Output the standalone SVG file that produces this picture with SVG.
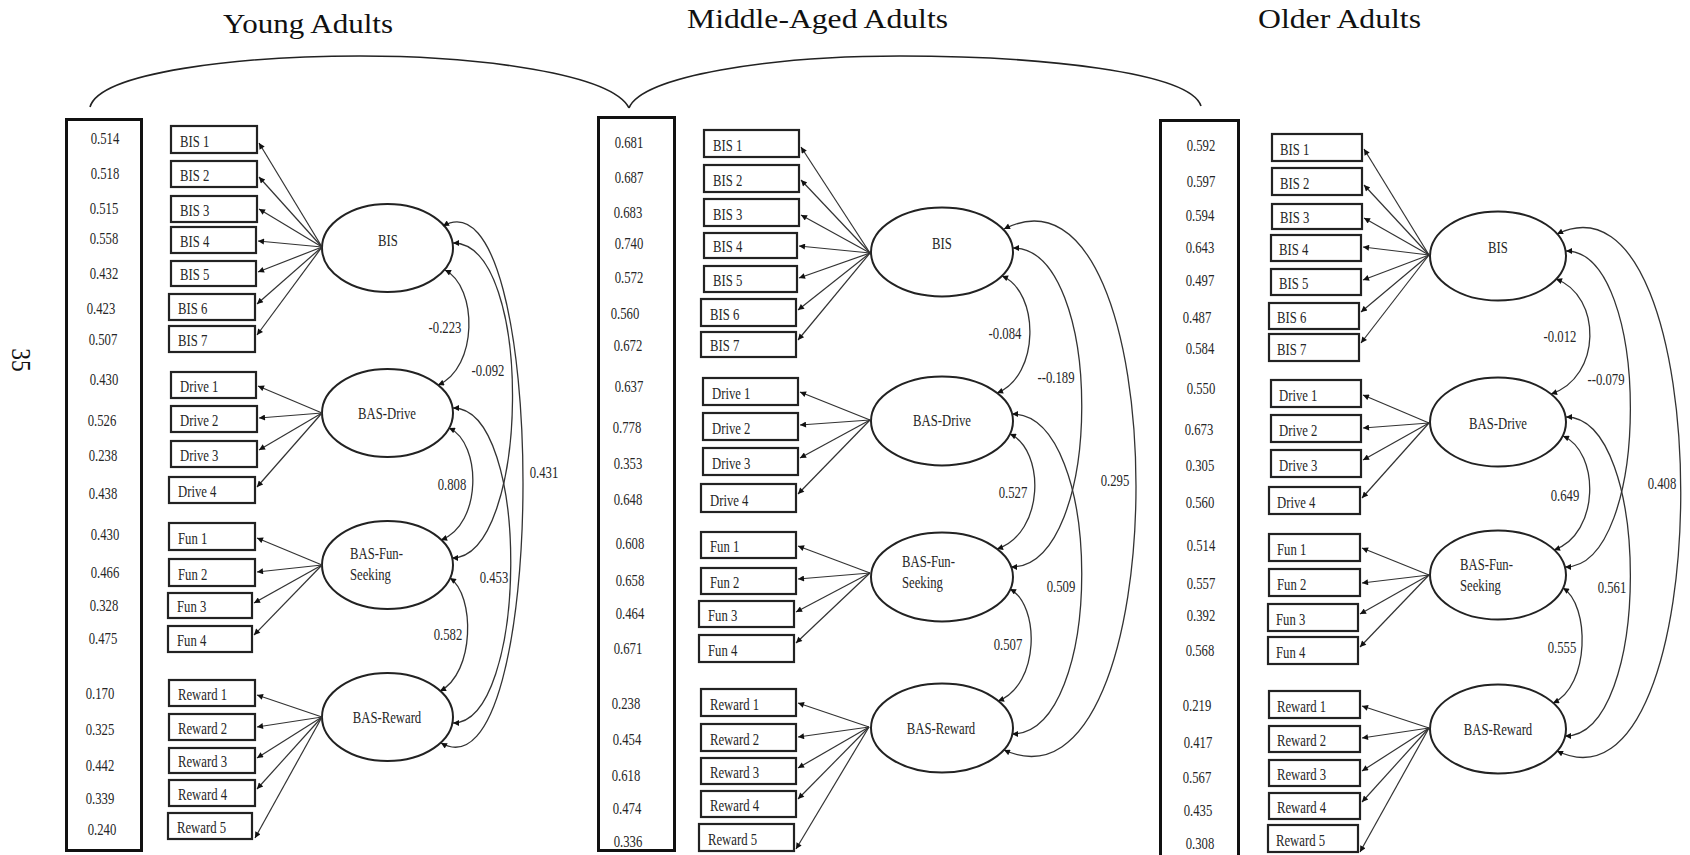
<svg xmlns="http://www.w3.org/2000/svg" width="1690" height="855" viewBox="0 0 1690 855">
<defs>
<marker id="ah" viewBox="0 0 10 10" refX="10" refY="5" markerWidth="8" markerHeight="6" markerUnits="userSpaceOnUse" orient="auto-start-reverse"><path d="M0,0 L10,5 L0,10 z" fill="#111"/></marker>
<style>
.t{font-family:"Liberation Serif","Times New Roman",serif;font-size:16.5px;fill:#262626}
.c{text-anchor:middle}
.ttl{font-family:"Liberation Serif","Times New Roman",serif;font-size:28px;fill:#111}
.box{fill:#fff;stroke:#222;stroke-width:2.2}
.err{fill:none;stroke:#111;stroke-width:3}
.lat{fill:#fff;stroke:#222;stroke-width:2}
.ld{fill:none;stroke:#333;stroke-width:1.2;marker-end:url(#ah)}
.cv{fill:none;stroke:#333;stroke-width:1.3;marker-start:url(#ah);marker-end:url(#ah)}
.br{fill:none;stroke:#222;stroke-width:1.6}
</style>
</defs>
<rect width="1690" height="855" fill="#fff"/>

<g id="titles">
<text class="ttl" x="223" y="33" textLength="170" lengthAdjust="spacingAndGlyphs">Young Adults</text>
<text class="ttl" x="687" y="28" textLength="261" lengthAdjust="spacingAndGlyphs">Middle-Aged Adults</text>
<text class="ttl" x="1258" y="28" textLength="163" lengthAdjust="spacingAndGlyphs">Older Adults</text>
<text class="ttl c" font-size="31" transform="translate(12,360) rotate(90) scale(0.84,1)">35</text>
</g>

<g id="braces">
<path class="br" d="M90,107 C100,72 240,56 360,56 C480,56 612,74 629,108"/>
<path class="br" d="M629,108 C642,76 770,56 900,56 C1040,56 1190,72 1201,106"/>
</g>

<!-- ================= PANEL 1 ================= -->
<g id="p1-errors">
<rect class="err" x="66.5" y="119.5" width="75" height="731"/>
<g class="t c">
<text transform="matrix(.77 0 0 1 105 143.5)">0.514</text>
<text transform="matrix(.77 0 0 1 105 178.5)">0.518</text>
<text transform="matrix(.77 0 0 1 104 213.5)">0.515</text>
<text transform="matrix(.77 0 0 1 104 243.5)">0.558</text>
<text transform="matrix(.77 0 0 1 104 278.5)">0.432</text>
<text transform="matrix(.77 0 0 1 101 313.5)">0.423</text>
<text transform="matrix(.77 0 0 1 103 344.5)">0.507</text>
<text transform="matrix(.77 0 0 1 104 384.5)">0.430</text>
<text transform="matrix(.77 0 0 1 102 425.5)">0.526</text>
<text transform="matrix(.77 0 0 1 103 460.5)">0.238</text>
<text transform="matrix(.77 0 0 1 103 498.5)">0.438</text>
<text transform="matrix(.77 0 0 1 105 539.5)">0.430</text>
<text transform="matrix(.77 0 0 1 105 577.5)">0.466</text>
<text transform="matrix(.77 0 0 1 104 610.5)">0.328</text>
<text transform="matrix(.77 0 0 1 103 643.5)">0.475</text>
<text transform="matrix(.77 0 0 1 100 698.5)">0.170</text>
<text transform="matrix(.77 0 0 1 100 734.5)">0.325</text>
<text transform="matrix(.77 0 0 1 100 770.5)">0.442</text>
<text transform="matrix(.77 0 0 1 100 803.5)">0.339</text>
<text transform="matrix(.77 0 0 1 102 834.5)">0.240</text>
</g>
</g>
<g id="p1-bis1"><rect class="box" x="171" y="126" width="86" height="27"/><text class="t" transform="matrix(.77 0 0 1 180 147)">BIS 1</text></g>
<g id="p1-bis2"><rect class="box" x="171" y="161" width="86" height="26"/><text class="t" transform="matrix(.77 0 0 1 180 181)">BIS 2</text></g>
<g id="p1-bis3"><rect class="box" x="171" y="196" width="86" height="26"/><text class="t" transform="matrix(.77 0 0 1 180 216)">BIS 3</text></g>
<g id="p1-bis4"><rect class="box" x="171" y="227" width="85" height="26"/><text class="t" transform="matrix(.77 0 0 1 180 247)">BIS 4</text></g>
<g id="p1-bis5"><rect class="box" x="171" y="261" width="85" height="25"/><text class="t" transform="matrix(.77 0 0 1 180 280)">BIS 5</text></g>
<g id="p1-bis6"><rect class="box" x="169" y="294" width="86" height="26"/><text class="t" transform="matrix(.77 0 0 1 178 314)">BIS 6</text></g>
<g id="p1-bis7"><rect class="box" x="169" y="326" width="86" height="26"/><text class="t" transform="matrix(.77 0 0 1 178 346)">BIS 7</text></g>
<g id="p1-drive1"><rect class="box" x="171" y="372" width="85" height="26"/><text class="t" transform="matrix(.77 0 0 1 180 392)">Drive 1</text></g>
<g id="p1-drive2"><rect class="box" x="171" y="406" width="86" height="26"/><text class="t" transform="matrix(.77 0 0 1 180 426)">Drive 2</text></g>
<g id="p1-drive3"><rect class="box" x="171" y="441" width="86" height="26"/><text class="t" transform="matrix(.77 0 0 1 180 461)">Drive 3</text></g>
<g id="p1-drive4"><rect class="box" x="169" y="477" width="86" height="26"/><text class="t" transform="matrix(.77 0 0 1 178 497)">Drive 4</text></g>
<g id="p1-fun1"><rect class="box" x="169" y="523" width="86" height="27"/><text class="t" transform="matrix(.77 0 0 1 178 544)">Fun 1</text></g>
<g id="p1-fun2"><rect class="box" x="169" y="559" width="86" height="27"/><text class="t" transform="matrix(.77 0 0 1 178 580)">Fun 2</text></g>
<g id="p1-fun3"><rect class="box" x="168" y="593" width="84" height="25"/><text class="t" transform="matrix(.77 0 0 1 177 612)">Fun 3</text></g>
<g id="p1-fun4"><rect class="box" x="168" y="626" width="84" height="26"/><text class="t" transform="matrix(.77 0 0 1 177 646)">Fun 4</text></g>
<g id="p1-rew1"><rect class="box" x="169" y="680" width="86" height="26"/><text class="t" transform="matrix(.77 0 0 1 178 700)">Reward 1</text></g>
<g id="p1-rew2"><rect class="box" x="169" y="714" width="86" height="26"/><text class="t" transform="matrix(.77 0 0 1 178 734)">Reward 2</text></g>
<g id="p1-rew3"><rect class="box" x="169" y="748" width="86" height="25"/><text class="t" transform="matrix(.77 0 0 1 178 767)">Reward 3</text></g>
<g id="p1-rew4"><rect class="box" x="169" y="780" width="86" height="26"/><text class="t" transform="matrix(.77 0 0 1 178 800)">Reward 4</text></g>
<g id="p1-rew5"><rect class="box" x="168" y="813" width="84" height="26"/><text class="t" transform="matrix(.77 0 0 1 177 833)">Reward 5</text></g>
<g id="p1-BIS"><ellipse class="lat" cx="387.5" cy="248" rx="65.5" ry="44"/><text class="t c" transform="matrix(.77 0 0 1 388 245.5)">BIS</text></g>
<g id="p1-DRIVE"><ellipse class="lat" cx="387.5" cy="413" rx="65.5" ry="44"/><text class="t c" transform="matrix(.77 0 0 1 387 418.5)">BAS-Drive</text></g>
<g id="p1-FUN"><ellipse class="lat" cx="387.5" cy="565" rx="65.5" ry="44"/><text class="t" transform="matrix(.77 0 0 1 350 558.5)">BAS-Fun-</text><text class="t" transform="matrix(.77 0 0 1 350 580)">Seeking</text></g>
<g id="p1-REW"><ellipse class="lat" cx="387.5" cy="717" rx="65.5" ry="44"/><text class="t c" transform="matrix(.77 0 0 1 387 722.5)">BAS-Reward</text></g>

<!-- ================= PANEL 2 ================= -->
<g id="p2-errors">
<rect class="err" x="598.5" y="117.5" width="76" height="733"/>
<g class="t c">
<text transform="matrix(.77 0 0 1 629 147.5)">0.681</text>
<text transform="matrix(.77 0 0 1 629 182.5)">0.687</text>
<text transform="matrix(.77 0 0 1 628 217.5)">0.683</text>
<text transform="matrix(.77 0 0 1 629 248.5)">0.740</text>
<text transform="matrix(.77 0 0 1 629 282.5)">0.572</text>
<text transform="matrix(.77 0 0 1 625 318.5)">0.560</text>
<text transform="matrix(.77 0 0 1 628 350.5)">0.672</text>
<text transform="matrix(.77 0 0 1 629 391.5)">0.637</text>
<text transform="matrix(.77 0 0 1 627 432.5)">0.778</text>
<text transform="matrix(.77 0 0 1 628 468.5)">0.353</text>
<text transform="matrix(.77 0 0 1 628 504.5)">0.648</text>
<text transform="matrix(.77 0 0 1 630 548.5)">0.608</text>
<text transform="matrix(.77 0 0 1 630 585.5)">0.658</text>
<text transform="matrix(.77 0 0 1 630 618.5)">0.464</text>
<text transform="matrix(.77 0 0 1 628 653.5)">0.671</text>
<text transform="matrix(.77 0 0 1 626 708.5)">0.238</text>
<text transform="matrix(.77 0 0 1 627 744.5)">0.454</text>
<text transform="matrix(.77 0 0 1 626 780.5)">0.618</text>
<text transform="matrix(.77 0 0 1 627 813.5)">0.474</text>
<text transform="matrix(.77 0 0 1 628 846.5)">0.336</text>
</g>
</g>
<g id="p2-bis1"><rect class="box" x="704" y="130" width="95" height="27"/><text class="t" transform="matrix(.77 0 0 1 713 151)">BIS 1</text></g>
<g id="p2-bis2"><rect class="box" x="704" y="165" width="95" height="27"/><text class="t" transform="matrix(.77 0 0 1 713 186)">BIS 2</text></g>
<g id="p2-bis3"><rect class="box" x="704" y="199" width="95" height="27"/><text class="t" transform="matrix(.77 0 0 1 713 220)">BIS 3</text></g>
<g id="p2-bis4"><rect class="box" x="704" y="233" width="93" height="25"/><text class="t" transform="matrix(.77 0 0 1 713 252)">BIS 4</text></g>
<g id="p2-bis5"><rect class="box" x="704" y="266" width="93" height="26"/><text class="t" transform="matrix(.77 0 0 1 713 286)">BIS 5</text></g>
<g id="p2-bis6"><rect class="box" x="701" y="299" width="95" height="27"/><text class="t" transform="matrix(.77 0 0 1 710 320)">BIS 6</text></g>
<g id="p2-bis7"><rect class="box" x="701" y="332" width="95" height="25"/><text class="t" transform="matrix(.77 0 0 1 710 351)">BIS 7</text></g>
<g id="p2-drive1"><rect class="box" x="703" y="378" width="95" height="27"/><text class="t" transform="matrix(.77 0 0 1 712 399)">Drive 1</text></g>
<g id="p2-drive2"><rect class="box" x="703" y="413" width="95" height="27"/><text class="t" transform="matrix(.77 0 0 1 712 434)">Drive 2</text></g>
<g id="p2-drive3"><rect class="box" x="703" y="448" width="95" height="27"/><text class="t" transform="matrix(.77 0 0 1 712 469)">Drive 3</text></g>
<g id="p2-drive4"><rect class="box" x="701" y="484" width="95" height="28"/><text class="t" transform="matrix(.77 0 0 1 710 506)">Drive 4</text></g>
<g id="p2-fun1"><rect class="box" x="701" y="532" width="95" height="26"/><text class="t" transform="matrix(.77 0 0 1 710 552)">Fun 1</text></g>
<g id="p2-fun2"><rect class="box" x="701" y="568" width="95" height="26"/><text class="t" transform="matrix(.77 0 0 1 710 588)">Fun 2</text></g>
<g id="p2-fun3"><rect class="box" x="699" y="601" width="95" height="26"/><text class="t" transform="matrix(.77 0 0 1 708 621)">Fun 3</text></g>
<g id="p2-fun4"><rect class="box" x="699" y="635" width="95" height="27"/><text class="t" transform="matrix(.77 0 0 1 708 656)">Fun 4</text></g>
<g id="p2-rew1"><rect class="box" x="701" y="689" width="95" height="27"/><text class="t" transform="matrix(.77 0 0 1 710 710)">Reward 1</text></g>
<g id="p2-rew2"><rect class="box" x="701" y="724" width="95" height="27"/><text class="t" transform="matrix(.77 0 0 1 710 745)">Reward 2</text></g>
<g id="p2-rew3"><rect class="box" x="701" y="758" width="95" height="26"/><text class="t" transform="matrix(.77 0 0 1 710 778)">Reward 3</text></g>
<g id="p2-rew4"><rect class="box" x="701" y="791" width="95" height="26"/><text class="t" transform="matrix(.77 0 0 1 710 811)">Reward 4</text></g>
<g id="p2-rew5"><rect class="box" x="699" y="824" width="95" height="27"/><text class="t" transform="matrix(.77 0 0 1 708 845)">Reward 5</text></g>
<g id="p2-BIS"><ellipse class="lat" cx="942" cy="252" rx="71" ry="44.5"/><text class="t c" transform="matrix(.77 0 0 1 942 248.5)">BIS</text></g>
<g id="p2-DRIVE"><ellipse class="lat" cx="942" cy="421" rx="71" ry="44.5"/><text class="t c" transform="matrix(.77 0 0 1 942 425.5)">BAS-Drive</text></g>
<g id="p2-FUN"><ellipse class="lat" cx="942" cy="577" rx="71" ry="44.5"/><text class="t" transform="matrix(.77 0 0 1 902 566.5)">BAS-Fun-</text><text class="t" transform="matrix(.77 0 0 1 902 588)">Seeking</text></g>
<g id="p2-REW"><ellipse class="lat" cx="942" cy="728" rx="71" ry="44.5"/><text class="t c" transform="matrix(.77 0 0 1 941 733.5)">BAS-Reward</text></g>

<!-- ================= PANEL 3 ================= -->
<g id="p3-errors">
<rect class="err" x="1160.5" y="120.5" width="78" height="760"/>
<g class="t c">
<text transform="matrix(.77 0 0 1 1201 150.5)">0.592</text>
<text transform="matrix(.77 0 0 1 1201 186.5)">0.597</text>
<text transform="matrix(.77 0 0 1 1200 220.5)">0.594</text>
<text transform="matrix(.77 0 0 1 1200 252.5)">0.643</text>
<text transform="matrix(.77 0 0 1 1200 285.5)">0.497</text>
<text transform="matrix(.77 0 0 1 1197 322.5)">0.487</text>
<text transform="matrix(.77 0 0 1 1200 353.5)">0.584</text>
<text transform="matrix(.77 0 0 1 1201 393.5)">0.550</text>
<text transform="matrix(.77 0 0 1 1199 434.5)">0.673</text>
<text transform="matrix(.77 0 0 1 1200 470.5)">0.305</text>
<text transform="matrix(.77 0 0 1 1200 507.5)">0.560</text>
<text transform="matrix(.77 0 0 1 1201 550.5)">0.514</text>
<text transform="matrix(.77 0 0 1 1201 588.5)">0.557</text>
<text transform="matrix(.77 0 0 1 1201 620.5)">0.392</text>
<text transform="matrix(.77 0 0 1 1200 655.5)">0.568</text>
<text transform="matrix(.77 0 0 1 1197 710.5)">0.219</text>
<text transform="matrix(.77 0 0 1 1198 747.5)">0.417</text>
<text transform="matrix(.77 0 0 1 1197 782.5)">0.567</text>
<text transform="matrix(.77 0 0 1 1198 815.5)">0.435</text>
<text transform="matrix(.77 0 0 1 1200 848.5)">0.308</text>
</g>
</g>
<g id="p3-bis1"><rect class="box" x="1272" y="134" width="90" height="27"/><text class="t" transform="matrix(.77 0 0 1 1280 155)">BIS 1</text></g>
<g id="p3-bis2"><rect class="box" x="1272" y="168" width="90" height="27"/><text class="t" transform="matrix(.77 0 0 1 1280 189)">BIS 2</text></g>
<g id="p3-bis3"><rect class="box" x="1272" y="204" width="90" height="25"/><text class="t" transform="matrix(.77 0 0 1 1280 223)">BIS 3</text></g>
<g id="p3-bis4"><rect class="box" x="1271" y="235" width="90" height="26"/><text class="t" transform="matrix(.77 0 0 1 1279 255)">BIS 4</text></g>
<g id="p3-bis5"><rect class="box" x="1271" y="269" width="90" height="26"/><text class="t" transform="matrix(.77 0 0 1 1279 289)">BIS 5</text></g>
<g id="p3-bis6"><rect class="box" x="1269" y="303" width="90" height="26"/><text class="t" transform="matrix(.77 0 0 1 1277 323)">BIS 6</text></g>
<g id="p3-bis7"><rect class="box" x="1269" y="334" width="90" height="27"/><text class="t" transform="matrix(.77 0 0 1 1277 355)">BIS 7</text></g>
<g id="p3-drive1"><rect class="box" x="1271" y="380" width="90" height="27"/><text class="t" transform="matrix(.77 0 0 1 1279 401)">Drive 1</text></g>
<g id="p3-drive2"><rect class="box" x="1271" y="415" width="90" height="27"/><text class="t" transform="matrix(.77 0 0 1 1279 436)">Drive 2</text></g>
<g id="p3-drive3"><rect class="box" x="1271" y="450" width="90" height="27"/><text class="t" transform="matrix(.77 0 0 1 1279 471)">Drive 3</text></g>
<g id="p3-drive4"><rect class="box" x="1269" y="487" width="91" height="27"/><text class="t" transform="matrix(.77 0 0 1 1277 508)">Drive 4</text></g>
<g id="p3-fun1"><rect class="box" x="1269" y="534" width="91" height="27"/><text class="t" transform="matrix(.77 0 0 1 1277 555)">Fun 1</text></g>
<g id="p3-fun2"><rect class="box" x="1269" y="569" width="91" height="27"/><text class="t" transform="matrix(.77 0 0 1 1277 590)">Fun 2</text></g>
<g id="p3-fun3"><rect class="box" x="1268" y="604" width="90" height="27"/><text class="t" transform="matrix(.77 0 0 1 1276 625)">Fun 3</text></g>
<g id="p3-fun4"><rect class="box" x="1268" y="637" width="90" height="27"/><text class="t" transform="matrix(.77 0 0 1 1276 658)">Fun 4</text></g>
<g id="p3-rew1"><rect class="box" x="1269" y="691" width="91" height="27"/><text class="t" transform="matrix(.77 0 0 1 1277 712)">Reward 1</text></g>
<g id="p3-rew2"><rect class="box" x="1269" y="726" width="91" height="26"/><text class="t" transform="matrix(.77 0 0 1 1277 746)">Reward 2</text></g>
<g id="p3-rew3"><rect class="box" x="1269" y="760" width="91" height="26"/><text class="t" transform="matrix(.77 0 0 1 1277 780)">Reward 3</text></g>
<g id="p3-rew4"><rect class="box" x="1269" y="793" width="91" height="26"/><text class="t" transform="matrix(.77 0 0 1 1277 813)">Reward 4</text></g>
<g id="p3-rew5"><rect class="box" x="1268" y="825" width="90" height="27"/><text class="t" transform="matrix(.77 0 0 1 1276 846)">Reward 5</text></g>
<g id="p3-BIS"><ellipse class="lat" cx="1498" cy="256" rx="68" ry="44.5"/><text class="t c" transform="matrix(.77 0 0 1 1498 252.5)">BIS</text></g>
<g id="p3-DRIVE"><ellipse class="lat" cx="1498" cy="422" rx="68" ry="44.5"/><text class="t c" transform="matrix(.77 0 0 1 1498 428.5)">BAS-Drive</text></g>
<g id="p3-FUN"><ellipse class="lat" cx="1498" cy="575" rx="68" ry="44.5"/><text class="t" transform="matrix(.77 0 0 1 1460 569.5)">BAS-Fun-</text><text class="t" transform="matrix(.77 0 0 1 1460 591)">Seeking</text></g>
<g id="p3-REW"><ellipse class="lat" cx="1498" cy="729" rx="68" ry="44.5"/><text class="t c" transform="matrix(.77 0 0 1 1498 734.5)">BAS-Reward</text></g>

<!-- ================= CONNECTORS ================= -->
<g id="connectors">
<!-- panel 1 loadings -->
<path class="ld" d="M322,247 L259,143"/>
<path class="ld" d="M322,247 L259,177"/>
<path class="ld" d="M322,247 L259,209"/>
<path class="ld" d="M322,247 L258,241"/>
<path class="ld" d="M322,247 L258,272"/>
<path class="ld" d="M322,247 L257,304"/>
<path class="ld" d="M322,247 L257,335"/>
<path class="ld" d="M322,413 L258,386"/>
<path class="ld" d="M322,413 L259,418"/>
<path class="ld" d="M322,413 L259,450"/>
<path class="ld" d="M322,413 L257,487"/>
<path class="ld" d="M322,565 L257,538"/>
<path class="ld" d="M322,565 L257,572"/>
<path class="ld" d="M322,565 L254,603"/>
<path class="ld" d="M322,565 L254,635"/>
<path class="ld" d="M322,717 L257,695"/>
<path class="ld" d="M322,717 L257,727"/>
<path class="ld" d="M322,717 L257,758"/>
<path class="ld" d="M322,717 L257,789"/>
<path class="ld" d="M322,717 L255,838"/>
<!-- panel 1 covariances -->
<path class="cv" d="M443,226 C550,165 550,805 441,743"/>
<path class="cv" d="M453,243 C535,243 530,558 452,558"/>
<path class="cv" d="M445,270 C478,287 478,368 438,385"/>
<path class="cv" d="M453,408 C532,408 528,723 453,723"/>
<path class="cv" d="M449,428 C482,443 482,525 441,540"/>
<path class="cv" d="M450,578 C475,595 475,673 440,691"/>
<!-- panel 2 loadings -->
<path class="ld" d="M870,253 L801,147"/>
<path class="ld" d="M870,253 L801,180"/>
<path class="ld" d="M870,253 L801,215"/>
<path class="ld" d="M870,253 L799,246"/>
<path class="ld" d="M870,253 L799,278"/>
<path class="ld" d="M870,253 L798,310"/>
<path class="ld" d="M870,253 L798,340"/>
<path class="ld" d="M870,420 L800,392"/>
<path class="ld" d="M870,420 L800,425"/>
<path class="ld" d="M870,420 L800,458"/>
<path class="ld" d="M870,420 L798,494"/>
<path class="ld" d="M870,573 L798,546"/>
<path class="ld" d="M870,573 L798,579"/>
<path class="ld" d="M870,573 L796,612"/>
<path class="ld" d="M870,573 L796,643"/>
<path class="ld" d="M869,727 L798,703"/>
<path class="ld" d="M869,727 L798,737"/>
<path class="ld" d="M869,727 L798,768"/>
<path class="ld" d="M869,727 L798,799"/>
<path class="ld" d="M869,727 L796,849"/>
<!-- panel 2 covariances -->
<path class="cv" d="M1004,229 C1180,140 1180,830 1004,750"/>
<path class="cv" d="M1013,248 C1105,248 1105,567 1011,567"/>
<path class="cv" d="M1002,276 C1040,292 1040,376 997,393"/>
<path class="cv" d="M1012,414 C1105,414 1105,734 1012,734"/>
<path class="cv" d="M1010,434 C1045,450 1045,533 997,549"/>
<path class="cv" d="M1010,589 C1040,605 1040,685 998,701"/>
<!-- panel 3 loadings -->
<path class="ld" d="M1429,255 L1364,149"/>
<path class="ld" d="M1429,255 L1364,185"/>
<path class="ld" d="M1429,255 L1364,218"/>
<path class="ld" d="M1429,255 L1363,247"/>
<path class="ld" d="M1429,255 L1363,280"/>
<path class="ld" d="M1429,255 L1361,312"/>
<path class="ld" d="M1429,255 L1361,343"/>
<path class="ld" d="M1429,423 L1363,395"/>
<path class="ld" d="M1429,423 L1363,428"/>
<path class="ld" d="M1429,423 L1363,460"/>
<path class="ld" d="M1429,423 L1362,498"/>
<path class="ld" d="M1429,575 L1362,548"/>
<path class="ld" d="M1429,575 L1362,583"/>
<path class="ld" d="M1429,575 L1360,614"/>
<path class="ld" d="M1429,575 L1360,647"/>
<path class="ld" d="M1429,728 L1362,706"/>
<path class="ld" d="M1429,728 L1362,738"/>
<path class="ld" d="M1429,728 L1362,771"/>
<path class="ld" d="M1429,728 L1362,802"/>
<path class="ld" d="M1429,728 L1360,852"/>
<!-- panel 3 covariances -->
<path class="cv" d="M1557,234 C1722,155 1722,830 1557,751"/>
<path class="cv" d="M1566,251 C1652,251 1652,567 1565,567"/>
<path class="cv" d="M1556,279 C1602,296 1602,377 1551,394"/>
<path class="cv" d="M1566,417 C1652,417 1652,736 1565,736"/>
<path class="cv" d="M1563,436 C1600,452 1600,534 1554,550"/>
<path class="cv" d="M1563,588 C1590,605 1590,686 1553,703"/>
</g>

<g id="cov-labels" class="t c">
<text transform="matrix(.77 0 0 1 445 332.5)">-0.223</text>
<text transform="matrix(.77 0 0 1 488 375.5)">-0.092</text>
<text transform="matrix(.77 0 0 1 452 489.5)">0.808</text>
<text transform="matrix(.77 0 0 1 494 582.5)">0.453</text>
<text transform="matrix(.77 0 0 1 448 639.5)">0.582</text>
<text transform="matrix(.77 0 0 1 544 477.5)">0.431</text>
<text transform="matrix(.77 0 0 1 1005 338.5)">-0.084</text>
<text transform="matrix(.77 0 0 1 1056 382.5)">--0.189</text>
<text transform="matrix(.77 0 0 1 1013 497.5)">0.527</text>
<text transform="matrix(.77 0 0 1 1061 591.5)">0.509</text>
<text transform="matrix(.77 0 0 1 1008 649.5)">0.507</text>
<text transform="matrix(.77 0 0 1 1115 485.5)">0.295</text>
<text transform="matrix(.77 0 0 1 1560 341.5)">-0.012</text>
<text transform="matrix(.77 0 0 1 1606 384.5)">--0.079</text>
<text transform="matrix(.77 0 0 1 1565 500.5)">0.649</text>
<text transform="matrix(.77 0 0 1 1612 592.5)">0.561</text>
<text transform="matrix(.77 0 0 1 1562 652.5)">0.555</text>
<text transform="matrix(.77 0 0 1 1662 488.5)">0.408</text>
</g>
</svg>
